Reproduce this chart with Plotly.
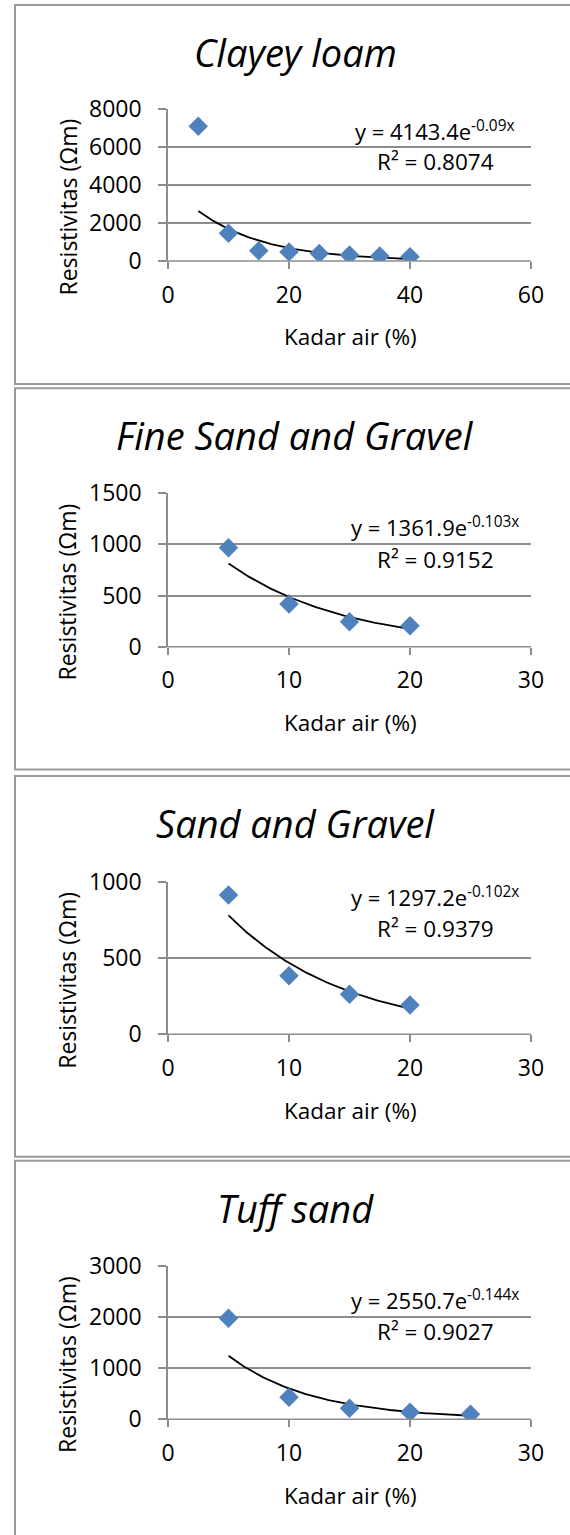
import numpy as np
import plotly.graph_objects as go

W, H = 570, 1535

# ---------------- data ----------------
titles = ["Clayey loam", "Fine Sand and Gravel", "Sand and Gravel", "Tuff sand"]

clayey_x = [5, 10, 15, 20, 25, 30, 35, 40]
clayey_y = [7100, 1460, 540, 480, 400, 310, 260, 230]

fine_x = [5, 10, 15, 20]
fine_y = [968, 418, 245, 205]

sand_x = [5, 10, 15, 20]
sand_y = [913, 384, 262, 192]

tuff_x = [5, 10, 15, 20, 25]
tuff_y = [1976, 430, 215, 140, 98]

# exponential trendline coefficients (as printed on the chart)
fit_a = [4143.4, 1361.9, 1297.2, 2550.7]
fit_b = [-0.09, -0.103, -0.102, -0.144]
fit_b_labels = ["-0.09x", "-0.103x", "-0.102x", "-0.144x"]
r2_labels = ["0.8074", "0.9152", "0.9379", "0.9027"]

x_max = [60, 30, 30, 30]
x_dtick = [20, 10, 10, 10]
y_max = [8000, 1500, 1000, 3000]
y_dtick = [2000, 500, 500, 1000]

x_title = "Kadar air (%)"
y_title = "Resistivitas (Ωm)"

series_x = [clayey_x, fine_x, sand_x, tuff_x]
series_y = [clayey_y, fine_y, sand_y, tuff_y]

# ---------------- layout geometry (pixels) ----------------
plot_left, plot_right = 168, 531
plot_tops = [109.3, 493.3, 881.7, 1266]
plot_bots = [261, 646.7, 1034.3, 1419.3]
title_y = [52, 435, 823.3, 1208.3]
eq_y = [130, 526.7, 896.7, 1299.3]
r2_y = [161.7, 560, 928.3, 1331.7]
ytitle_y = [207.5, 592.5, 980.8, 1365]
panel_top = [5, 388.3, 776, 1160.7]
panel_bot = [384, 769.5, 1156.7, 1545]

def px(x):
    return x / W

def py(y):
    return 1 - y / H

FONT = "Open Sans, Noto Sans, DejaVu Sans, sans-serif"
BLUE = "#4F81BD"
GRID = "#8C8C8C"

fig = go.Figure()
annotations = []
shapes = []

for i in range(4):
    xa = "x" if i == 0 else f"x{i+1}"
    ya = "y" if i == 0 else f"y{i+1}"
    xs = np.array(series_x[i], dtype=float)
    # trendline
    tx = np.linspace(xs.min(), xs.max(), 100)
    ty = fit_a[i] * np.exp(fit_b[i] * tx)
    fig.add_trace(go.Scatter(x=tx, y=ty, mode="lines", xaxis=xa, yaxis=ya,
                             line=dict(color="black", width=1.8), showlegend=False,
                             hoverinfo="skip"))
    fig.add_trace(go.Scatter(x=series_x[i], y=series_y[i], mode="markers",
                             xaxis=xa, yaxis=ya, showlegend=False,
                             marker=dict(symbol="diamond", size=15, color=BLUE,
                                         line=dict(width=0))))

    xkey = "xaxis" if i == 0 else f"xaxis{i+1}"
    ykey = "yaxis" if i == 0 else f"yaxis{i+1}"
    fig.layout[xkey] = dict(
        domain=[px(plot_left), px(plot_right)], anchor=ya, automargin=False,
        range=[0, x_max[i]], dtick=x_dtick[i], tick0=0,
        showgrid=False, zeroline=False, showline=False,
        ticks="outside", ticklen=7, tickwidth=1.5, tickcolor=GRID,
        tickfont=dict(family=FONT, size=23, color="black"),
        ticklabelstandoff=6,
    )
    fig.layout[ykey] = dict(
        domain=[py(plot_bots[i]), py(plot_tops[i])], anchor=xa, automargin=False,
        range=[0, y_max[i]], dtick=y_dtick[i], tick0=0,
        showgrid=True, gridcolor=GRID, gridwidth=1.5,
        zeroline=False, showline=True, linecolor=GRID, linewidth=1.5,
        ticks="outside", ticklen=8, tickwidth=1.5, tickcolor=GRID,
        tickfont=dict(family=FONT, size=23, color="black"),
        ticklabelstandoff=12,
    )
    # x-axis baseline extends left like Excel
    shapes.append(dict(type="line", xref="paper", yref="paper",
                       x0=px(plot_left - 8), x1=px(plot_right),
                       y0=py(plot_bots[i]), y1=py(plot_bots[i]),
                       line=dict(color=GRID, width=1.5)))
    # panel frame
    shapes.append(dict(type="rect", xref="paper", yref="paper",
                       x0=px(15), x1=px(W + 10), y0=py(panel_bot[i]), y1=py(panel_top[i]),
                       line=dict(color="#9A9A9A", width=2), fillcolor="rgba(0,0,0,0)",
                       layer="below"))

    annotations.append(dict(text=titles[i], xref="paper", yref="paper",
                            x=px(295), y=py(title_y[i]), xanchor="center", yanchor="middle",
                            showarrow=False,
                            font=dict(family=FONT, size=38, color="black", style="italic")))
    annotations.append(dict(text=f"y = {fit_a[i]}e<sup>{fit_b_labels[i]}</sup>",
                            xref="paper", yref="paper",
                            x=px(435), y=py(eq_y[i]), xanchor="center", yanchor="middle",
                            showarrow=False,
                            font=dict(family=FONT, size=22, color="black")))
    annotations.append(dict(text=f"R² = {r2_labels[i]}",
                            xref="paper", yref="paper",
                            x=px(435), y=py(r2_y[i]), xanchor="center", yanchor="middle",
                            showarrow=False,
                            font=dict(family=FONT, size=22.5, color="black")))
    annotations.append(dict(text=y_title, xref="paper", yref="paper",
                            x=px(67), y=py(ytitle_y[i]), xanchor="center", yanchor="middle",
                            textangle=-90, showarrow=False,
                            font=dict(family=FONT, size=23, color="black")))
    annotations.append(dict(text=x_title, xref="paper", yref="paper",
                            x=px(350), y=py(plot_bots[i] + 76), xanchor="center",
                            yanchor="middle", showarrow=False,
                            font=dict(family=FONT, size=22.5, color="black")))

fig.update_layout(width=W, height=H,
                  margin=dict(l=0, r=0, t=0, b=0, pad=0, autoexpand=False),
                  paper_bgcolor="white", plot_bgcolor="white",
                  annotations=annotations, shapes=shapes, showlegend=False)

fig.write_html("out.html", config={"displayModeBar": False},
               post_script="document.body.style.margin='0';document.body.style.overflow='hidden';")
